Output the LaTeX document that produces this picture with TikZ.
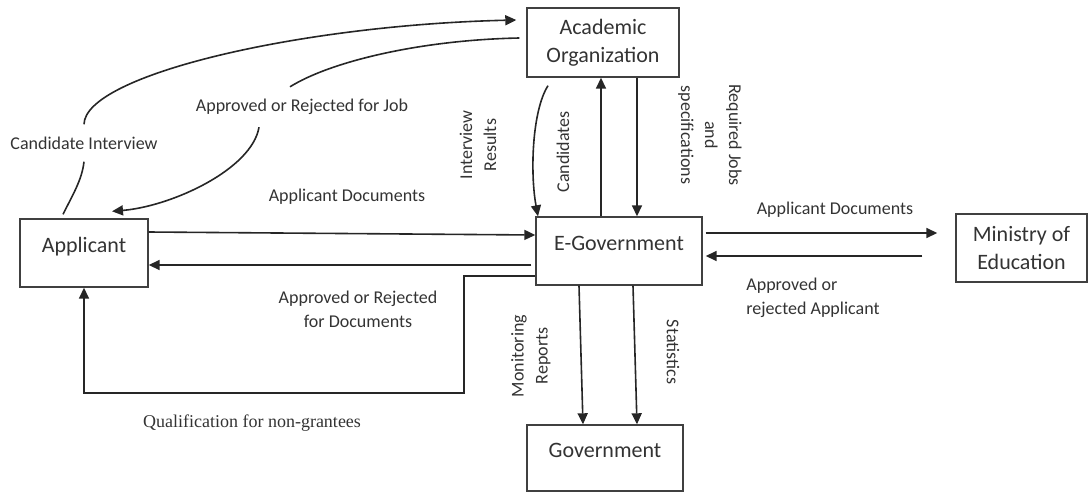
\documentclass[tikz,border=0pt]{standalone}
\usepackage{fontspec}
\setmainfont{Carlito}
\newfontfamily\timesfont{Liberation Serif}
\usetikzlibrary{arrows.meta, calc}

\begin{document}
\begin{tikzpicture}[x=0.5pt, y=-0.5pt, >={Triangle[length=5.5pt, width=5pt]}, every node/.style={text=black!80}]

\tikzset{
    box/.style={draw=black!75, line width=0.7pt, align=center, inner sep=0pt, font=\fontsize{11}{14}\selectfont},
    toptext/.style={text height=7pt, text depth=8pt},
    flow/.style={align=center, inner sep=2pt, font=\fontsize{9}{12}\selectfont},
    gap/.style={flow, inner ysep=6pt},
    link/.style={line width=0.8pt, draw=black!85}
}

\useasboundingbox (0,0) rectangle (1088,493);

\node[box, minimum width=76pt, minimum height=34.5pt] (acad) at (603,42.5) {Academic\\Organization};
\node[box, toptext, minimum width=83pt, minimum height=34pt] (egov) at (619,251) {E-Government};
\node[box, toptext, minimum width=64pt, minimum height=34pt] (app) at (84,253) {Applicant};
\node[box, minimum width=65.5pt, minimum height=34pt] (min) at (1021.5,248) {Ministry of\\Education};
\node[box, toptext, minimum width=78pt, minimum height=33pt] (gov) at (605,458) {Government};

\node[gap] (ci) at (84,143) {Candidate Interview};
\node[gap] (arj) at (302,107) {Approved or Rejected for Job};
\node[flow] (ad1) at (347,197) {Applicant Documents};
\node[flow] (ard) at (358,309) {Approved or Rejected\\for Documents};
\node[flow, font=\timesfont\fontsize{9}{11}\selectfont] (qng) at (252,423) {Qualification for non-grantees};
\node[flow, rotate=90] (ir) at (478,145) {Interview\\Results};
\node[flow, rotate=90] (cand) at (563,152) {Candidates};
\node[flow, rotate=-90] (rjs) at (710,135) {Required Jobs\\and\\specifications};
\node[flow] (ad2) at (835,210) {Applicant Documents};
\node[flow, align=left] (ara) at (813,298) {Approved or\\rejected Applicant};
\node[flow, rotate=90] (mr) at (531,356) {Monitoring\\Reports};
\node[flow, rotate=-90] (stat) at (673,352) {Statistics};

\draw[link] ($(app.north)+(-21,-4)$) .. controls +(10,-20) and +(-2,18) .. (ci.south);
\draw[link, ->] (ci.north) .. controls (85,75) and (300,25) .. ($(acad.west)+(-10,-22.5)$);
\draw[link] ($(acad.west)+(-7,-4.5)$) .. controls +(-100,2) and +(40,-25) .. ($(arj.north)+(-12,0)$);
\draw[link, ->] ($(arj.south)+(-43,0)$) .. controls +(-7,42) and +(60,-5) .. ($(app.north)+(28,-7)$);

\draw[link, ->] ($(app.east)+(0,-21)$) -- ($(egov.west)+(0,-16)$);
\draw[link, ->] ($(egov.west)+(-4,14)$) -- ($(app.east)+(0,12)$);
\coordinate (qturn) at (464,393);
\draw[link, ->] ($(egov.west)+(0,25)$) -| (qturn) -| (app.south);

\draw[link, ->] ($(acad.south)+(-55,8)$) .. controls +(-16,25) and +(-8,-43) .. ($(egov.north)+(-81,0)$);
\draw[link, ->] ($(egov.north)+(-18,0)$) -- ($(acad.south)+(-2,0)$);
\draw[link, ->] ($(acad.south)+(34,0)$) -- ($(egov.north)+(18,0)$);

\draw[link, ->] ($(egov.east)+(3,-18)$) -- ($(min.west)+(-18,-15)$);
\draw[link, ->] ($(min.west)+(-33,8)$) -- ($(egov.east)+(3,5)$);

\draw[link, ->] ($(egov.south)+(-40,0)$) -- ($(gov.north)+(-22,0)$);
\draw[link, ->] ($(egov.south)+(14,0)$) -- ($(gov.north)+(32,0)$);

\end{tikzpicture}
\end{document}
